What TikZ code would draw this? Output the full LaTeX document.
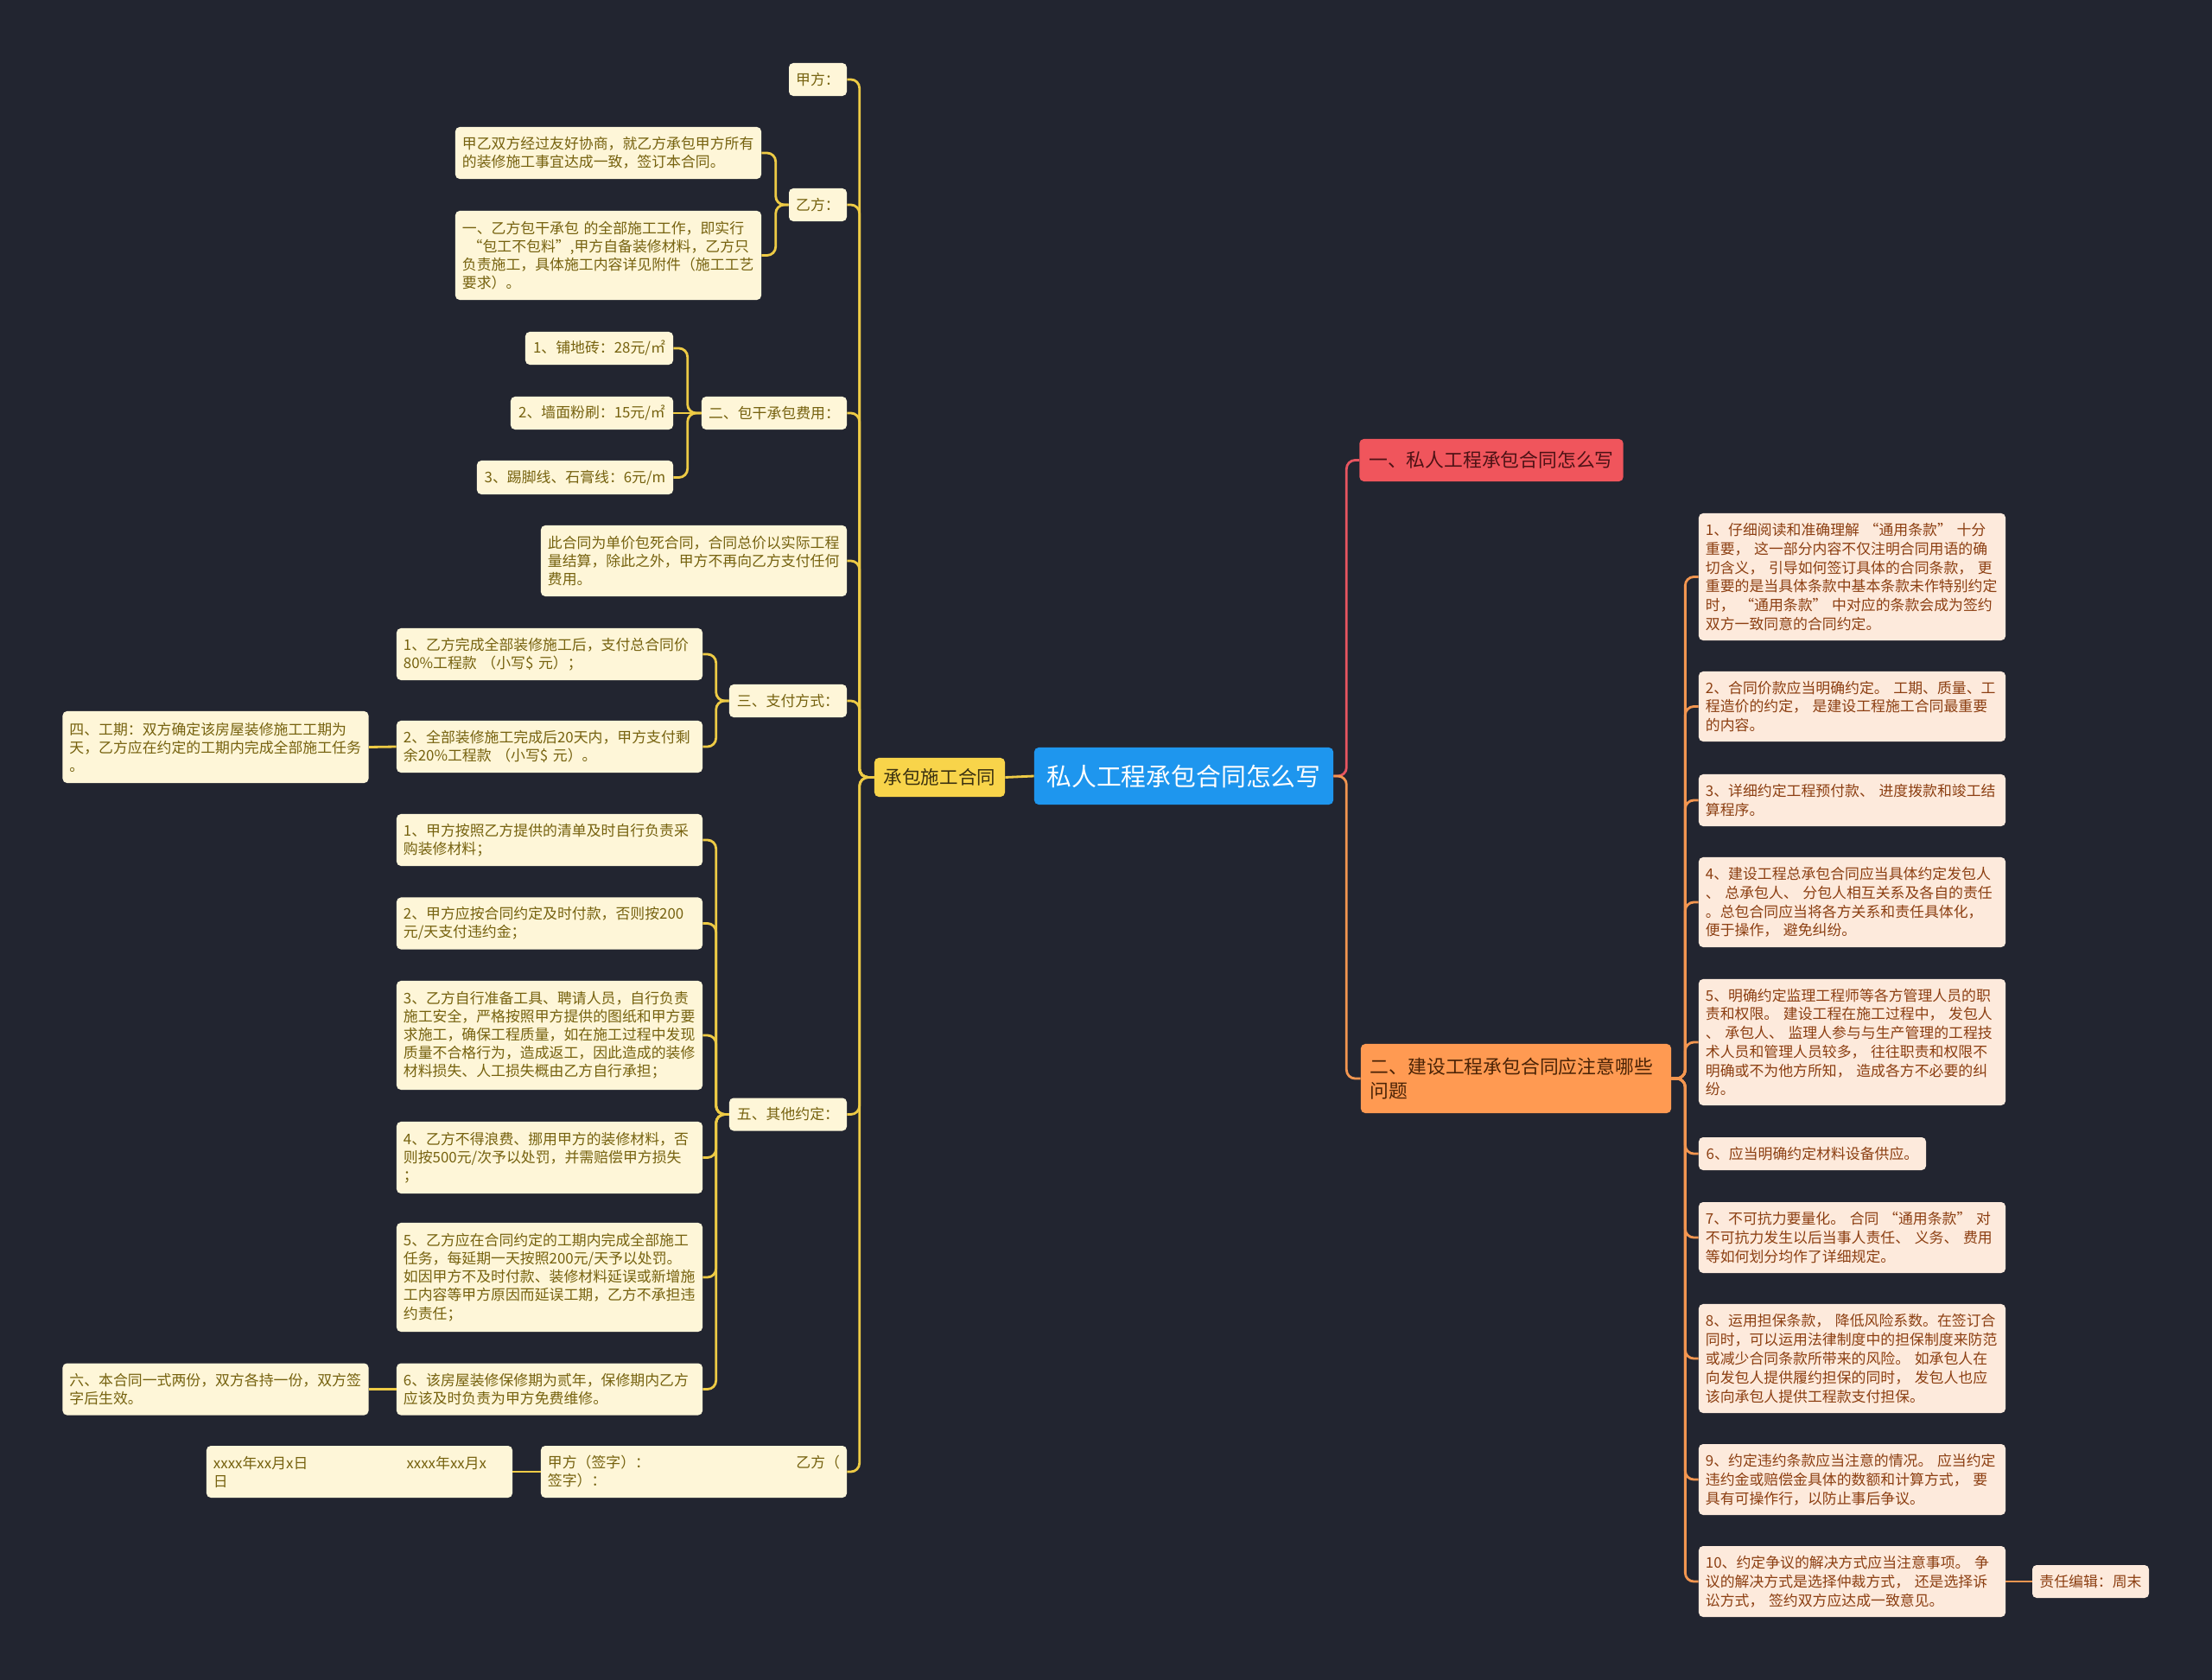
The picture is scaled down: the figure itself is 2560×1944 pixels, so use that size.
\documentclass[tikz,border=0pt]{standalone}
\usepackage{fontspec}
\newfontfamily\cjk{Noto Sans CJK SC}
\definecolor{bgc}{HTML}{222530}
\definecolor{lineY}{HTML}{EECB45}
\definecolor{creamL}{HTML}{FEF6D8}
\definecolor{textL}{HTML}{76620F}
\definecolor{mainY}{HTML}{F8D44A}
\definecolor{mainYt}{HTML}{3B3110}
\definecolor{rootB}{HTML}{1E96EE}
\definecolor{redB}{HTML}{F0555C}
\definecolor{redBt}{HTML}{4D1215}
\definecolor{lineR}{HTML}{E85560}
\definecolor{orgB}{HTML}{FF9A52}
\definecolor{orgBt}{HTML}{4A2306}
\definecolor{lineO}{HTML}{F39650}
\definecolor{peachR}{HTML}{FDEADC}
\definecolor{textR}{HTML}{8C3F12}
\tikzset{
	leaf/.style={rounded corners=0.125cm, inner xsep=0.2cm, inner ysep=0pt, align=left},
	leafL/.style={leaf, fill=creamL, text=textL, font=\cjk\fontsize{12pt}{15pt}\selectfont},
	leafR/.style={leaf, fill=peachR, text=textR, font=\cjk\fontsize{12pt}{15.5pt}\selectfont},
	rootbox/.style={rounded corners=0.125cm, fill=rootB, text=white, minimum width=8.65cm, minimum height=1.65cm, font=\cjk\fontsize{20.5pt}{24pt}\selectfont},
	mainL/.style={rounded corners=0.125cm, fill=mainY, text=mainYt, font=\cjk\fontsize{15.3pt}{19pt}\selectfont},
	mainR/.style={rounded corners=0.125cm, inner xsep=0.275cm, inner ysep=0pt, align=left, font=\cjk\fontsize{15.5pt}{20pt}\selectfont},
	ylink/.style={draw=lineY, line width=2pt, rounded corners=0.25cm},
	rlink/.style={draw=lineR, line width=2pt, rounded corners=0.25cm},
	olink/.style={draw=lineO, line width=2pt, rounded corners=0.25cm}
}

\begin{document}
\begin{tikzpicture}[x=0.025cm, y=-0.025cm]
			%%%%% START %%%%%
			
			\fill[bgc] (0,0) rectangle (2560,1944);
			\useasboundingbox (0,0) rectangle (2560,1944);
			
			\node[rootbox] (root) at (1370,898) {私人工程承包合同怎么写};
			\node[mainL, minimum width=3.775cm, minimum height=1.125cm] (L0) at (1087.5,899.5) {承包施工合同};
			\node[mainR, fill=redB, text=redBt, minimum width=7.6cm, minimum height=1.225cm] (R1) at (1726,532.5) {一、私人工程承包合同怎么写};
			\node[mainR, fill=orgB, text=orgBt, text width=8.425cm, minimum height=2cm] (R2) at (1754.5,1248) {二、建设工程承包合同应注意哪些\\问题};
			
			\node[leafL, minimum width=1.675cm, minimum height=0.95cm] (a) at (946.5,92) {甲方：};
			\node[leafL, minimum width=1.675cm, minimum height=0.95cm] (b) at (946.5,237) {乙方：};
			\node[leafL, minimum width=4.2cm, minimum height=0.95cm] (c) at (896,478) {二、包干承包费用：};
			\node[leafL, text width=8.45cm, minimum height=2.05cm] (d) at (803,649) {此合同为单价包死合同，合同总价以实际工程\\量结算，除此之外，甲方不再向乙方支付任何\\费用。};
			\node[leafL, minimum width=3.4cm, minimum height=0.95cm] (e) at (912,811) {三、支付方式：};
			\node[leafL, minimum width=3.4cm, minimum height=0.95cm] (f) at (912,1289.5) {五、其他约定：};
			\node[leafL, text width=8.45cm, minimum height=1.5cm] (g) at (803,1703) {甲方（签字）：\hfill 乙方（\\签字）：};
			
			\node[leafL, text width=8.45cm, minimum height=1.5cm] (b1) at (704,177) {甲乙双方经过友好协商，就乙方承包甲方所有\\的装修施工事宜达成一致，签订本合同。};
			\node[leafL, text width=8.45cm, minimum height=2.575cm] (b2) at (704,295.5) {一、乙方包干承包~的全部施工工作，即实行\\\hspace*{0.4em}“包工不包料”,甲方自备装修材料，乙方只\\负责施工，具体施工内容详见附件（施工工艺\\要求）。};
			
			\node[leafL, minimum width=4.275cm, minimum height=0.95cm] (c1) at (693.5,403) {1、铺地砖：28元/㎡};
			\node[leafL, minimum width=4.7cm, minimum height=0.95cm] (c2) at (685,478) {2、墙面粉刷：15元/㎡};
			\node[leafL, minimum width=5.675cm, minimum height=0.975cm] (c3) at (665.5,552.5) {3、踢脚线、石膏线：6元/m};
			
			\node[leafL, text width=8.45cm, minimum height=1.5cm] (e1) at (636,757) {1、乙方完成全部装修施工后，支付总合同价\\80\%工程款~（小写\$~元）；};
			\node[leafL, text width=8.45cm, minimum height=1.5cm] (e2) at (636,864) {2、全部装修施工完成后20天内，甲方支付剩\\余20\%工程款~（小写\$~元）。};
			\node[leafL, text width=8.45cm, minimum height=2.075cm] (term) at (249.5,864.5) {四、工期：双方确定该房屋装修施工工期为\\天，乙方应在约定的工期内完成全部施工任务\\。};
			
			\node[leafL, text width=8.45cm, minimum height=1.5cm] (f1) at (636,972) {1、甲方按照乙方提供的清单及时自行负责采\\购装修材料；};
			\node[leafL, text width=8.45cm, minimum height=1.5cm] (f2) at (636,1068.5) {2、甲方应按合同约定及时付款，否则按200\\元/天支付违约金；};
			\node[leafL, text width=8.45cm, minimum height=3.15cm] (f3) at (636,1198) {3、乙方自行准备工具、聘请人员，自行负责\\施工安全，严格按照甲方提供的图纸和甲方要\\求施工，确保工程质量，如在施工过程中发现\\质量不合格行为，造成返工，因此造成的装修\\材料损失、人工损失概由乙方自行承担；};
			\node[leafL, text width=8.45cm, minimum height=2.075cm] (f4) at (636,1339.5) {4、乙方不得浪费、挪用甲方的装修材料，否\\则按500元/次予以处罚，并需赔偿甲方损失\\；};
			\node[leafL, text width=8.45cm, minimum height=3.15cm] (f5) at (636,1478) {5、乙方应在合同约定的工期内完成全部施工\\任务，每延期一天按照200元/天予以处罚。\\如因甲方不及时付款、装修材料延误或新增施\\工内容等甲方原因而延误工期，乙方不承担违\\约责任；};
			\node[leafL, text width=8.45cm, minimum height=1.5cm] (f6) at (636,1607.5) {6、该房屋装修保修期为贰年，保修期内乙方\\应该及时负责为甲方免费维修。};
			\node[leafL, text width=8.45cm, minimum height=1.5cm] (copies) at (249.5,1607.5) {六、本合同一式两份，双方各持一份，双方签\\字后生效。};
			\node[leafL, text width=8.45cm, minimum height=1.5cm] (dates) at (416,1703) {xxxx年xx月x日\hfill xxxx年xx月x\makebox[1.3em]{}\\日};
			
			\node[leafR, text width=8.475cm, minimum height=3.675cm] (r1) at (2143.5,667.5) {1、仔细阅读和准确理解~“通用条款”~十分\\重要，~这一部分内容不仅注明合同用语的确\\切含义，~引导如何签订具体的合同条款，~更\\重要的是当具体条款中基本条款未作特别约定\\时，~“通用条款”~中对应的条款会成为签约\\双方一致同意的合同约定。};
			\node[leafR, text width=8.475cm, minimum height=2.025cm] (r2) at (2143.5,817.5) {2、合同价款应当明确约定。~工期、质量、工\\程造价的约定，~是建设工程施工合同最重要\\的内容。};
			\node[leafR, text width=8.475cm, minimum height=1.5cm] (r3) at (2143.5,926) {3、详细约定工程预付款、~进度拨款和竣工结\\算程序。};
			\node[leafR, text width=8.475cm, minimum height=2.6cm] (r4) at (2143.5,1044) {4、建设工程总承包合同应当具体约定发包人\\、~总承包人、~分包人相互关系及各自的责任\\。总包合同应当将各方关系和责任具体化，\\便于操作，~避免纠纷。};
			\node[leafR, text width=8.475cm, minimum height=3.65cm] (r5) at (2143.5,1206) {5、明确约定监理工程师等各方管理人员的职\\责和权限。~建设工程在施工过程中，~发包人\\、~承包人、~监理人参与与生产管理的工程技\\术人员和管理人员较多，~往往职责和权限不\\明确或不为他方所知，~造成各方不必要的纠\\纷。};
			\node[leafR, minimum width=6.575cm, minimum height=0.95cm] (r6) at (2097.5,1335) {6、应当明确约定材料设备供应。};
			\node[leafR, text width=8.475cm, minimum height=2.05cm] (r7) at (2143.5,1432) {7、不可抗力要量化。~合同~“通用条款”~对\\不可抗力发生以后当事人责任、~义务、~费用\\等如何划分均作了详细规定。};
			\node[leafR, text width=8.475cm, minimum height=3.15cm] (r8) at (2143.5,1572) {8、运用担保条款，~降低风险系数。在签订合\\同时，可以运用法律制度中的担保制度来防范\\或减少合同条款所带来的风险。~如承包人在\\向发包人提供履约担保的同时，~发包人也应\\该向承包人提供工程款支付担保。};
			\node[leafR, text width=8.475cm, minimum height=2.05cm] (r9) at (2143.5,1712) {9、约定违约条款应当注意的情况。~应当约定\\违约金或赔偿金具体的数额和计算方式，~要\\具有可操作行，以防止事后争议。};
			\node[leafR, text width=8.475cm, minimum height=2.05cm] (r10) at (2143.5,1830) {10、约定争议的解决方式应当注意事项。~争\\议的解决方式是选择仲裁方式，~还是选择诉\\讼方式，~签约双方应达成一致意见。};
			\node[leafR, minimum width=3.375cm, minimum height=0.95cm] (ed) at (2419.5,1830) {责任编辑：周末};
			
			\draw[ylink] (root.west) -- (L0.east);
			\draw[rlink] (root.east) -- ++(15,0) |- (R1.west);
			\draw[olink] (root.east) -- ++(15,0) |- (R2.west);
			
			\draw[ylink] (L0.west) -- ++(-17,0) |- (a.east);
			\draw[ylink] (L0.west) -- ++(-17,0) |- (b.east);
			\draw[ylink] (L0.west) -- ++(-17,0) |- (c.east);
			\draw[ylink] (L0.west) -- ++(-17,0) |- (d.east);
			\draw[ylink] (L0.west) -- ++(-17,0) |- (e.east);
			\draw[ylink] (L0.west) -- ++(-17,0) |- (f.east);
			\draw[ylink] (L0.west) -- ++(-17,0) |- (g.east);
			
			\draw[ylink] (b.west) -- ++(-15,0) |- (b1.east);
			\draw[ylink] (b.west) -- ++(-15,0) |- (b2.east);
			
			\draw[ylink] (c.west) -- ++(-16,0) |- (c1.east);
			\draw[ylink] (c.west) -- (c2.east);
			\draw[ylink] (c.west) -- ++(-16,0) |- (c3.east);
			
			\draw[ylink] (e.west) -- ++(-15,0) |- (e1.east);
			\draw[ylink] (e.west) -- ++(-15,0) |- (e2.east);
			\draw[ylink] (e2.west) -- (term.east);
			
			\draw[ylink] (f.west) -- ++(-15,0) |- (f1.east);
			\draw[ylink] (f.west) -- ++(-15,0) |- (f2.east);
			\draw[ylink] (f.west) -- ++(-15,0) |- (f3.east);
			\draw[ylink] (f.west) -- ++(-15,0) |- (f4.east);
			\draw[ylink] (f.west) -- ++(-15,0) |- (f5.east);
			\draw[ylink] (f.west) -- ++(-15,0) |- (f6.east);
			\draw[ylink] (f6.west) -- (copies.east);
			
			\draw[ylink] (g.west) -- (dates.east);
			
			\draw[olink] (R2.east) -- ++(16,0) |- (r1.west);
			\draw[olink] (R2.east) -- ++(16,0) |- (r2.west);
			\draw[olink] (R2.east) -- ++(16,0) |- (r3.west);
			\draw[olink] (R2.east) -- ++(16,0) |- (r4.west);
			\draw[olink] (R2.east) -- ++(16,0) |- (r5.west);
			\draw[olink] (R2.east) -- ++(16,0) |- (r6.west);
			\draw[olink] (R2.east) -- ++(16,0) |- (r7.west);
			\draw[olink] (R2.east) -- ++(16,0) |- (r8.west);
			\draw[olink] (R2.east) -- ++(16,0) |- (r9.west);
			\draw[olink] (R2.east) -- ++(16,0) |- (r10.west);
			\draw[olink] (r10.east) -- (ed.west);
			
			%%%%% END %%%%%
\end{tikzpicture}
\end{document}
